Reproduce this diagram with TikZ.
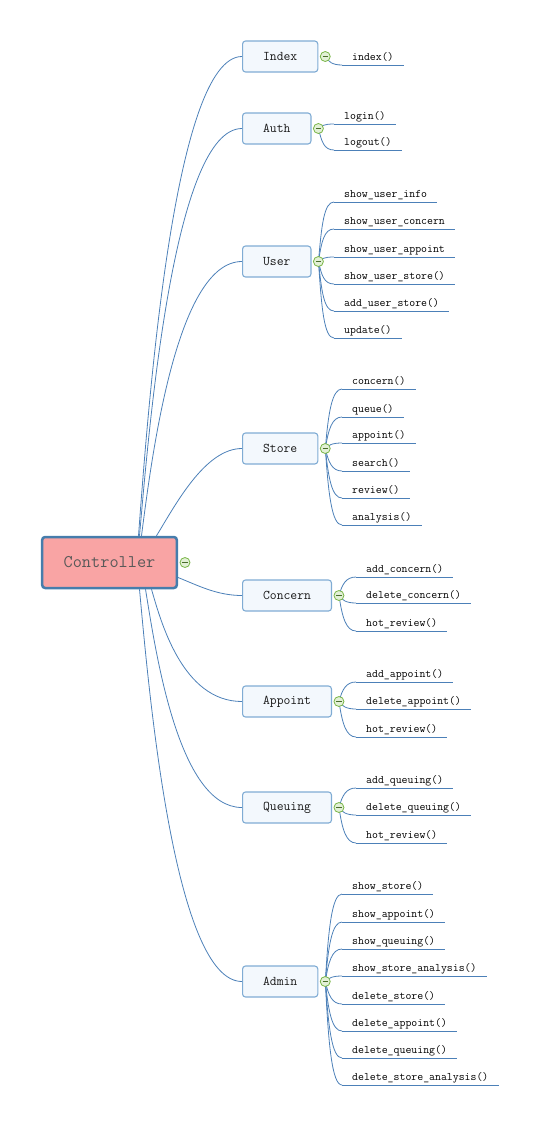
\documentclass[tikz,border=0pt]{standalone}
\usetikzlibrary{positioning}

\definecolor{linkblue}{RGB}{76,128,184}
\definecolor{rootfill}{RGB}{249,164,164}
\definecolor{rootline}{RGB}{70,125,172}
\definecolor{topicfill}{RGB}{243,248,253}
\definecolor{topicline}{RGB}{128,172,212}
\definecolor{togglefill}{RGB}{226,240,214}
\definecolor{toggleline}{RGB}{122,182,72}

\tikzset{
  root/.style={rectangle, rounded corners=3pt, draw=rootline, line width=2.5pt, fill=rootfill,
    minimum height=51pt, inner xsep=21.5pt, font=\ttfamily\fontsize{17.8}{20}\selectfont, text=black!65},
  topic/.style={rectangle, rounded corners=3pt, draw=topicline, line width=1.1pt, fill=topicfill,
    minimum height=31pt, inner xsep=20.5pt, anchor=west, font=\ttfamily\fontsize{13.3}{15}\selectfont, text=black!90},
  link/.style={draw=linkblue, line width=0.8pt},
  method/.style={anchor=south west, inner xsep=10pt, inner ysep=4pt, text depth=0pt,
    font=\ttfamily\fontsize{11.5}{13}\selectfont,
    append after command={(\tikzlastnode.south west) edge[link] (\tikzlastnode.south east)}},
  toggle/.style={circle, draw=toggleline, fill=togglefill, line width=0.8pt, minimum size=10pt, inner sep=0pt,
    path picture={\draw[toggleline!60!black, line width=1.2pt] ([xshift=-2.6pt]path picture bounding box.center) -- ([xshift=2.6pt]path picture bounding box.center);}}
}

\begin{document}
\begin{tikzpicture}[x=1pt, y=-1pt]
    \useasboundingbox (0,0) rectangle (541,1125);

    %% Central topic
    \node[root] (root) at (109.5,562.5) {Controller};

    %% Main topics
    \node[topic] (index)   at (242,56.5)  {Index};
    \node[topic] (auth)    at (242,128.5) {Auth};
    \node[topic] (user)    at (242,261.5) {User};
    \node[topic] (store)   at (242,448.5) {Store};
    \node[topic] (concern) at (242,595.5) {Concern};
    \node[topic] (appoint) at (242,701.5) {Appoint};
    \node[topic] (queuing) at (242,807.5) {Queuing};
    \node[topic] (admin)   at (242,981.5) {Admin};

    %% Root to topics
    \draw[link] ([xshift=29pt]root.north) .. controls +(10,-134) and +(-68,0) .. (index.west);
    \draw[link] ([xshift=30pt]root.north) .. controls +(10,-114) and +(-68,0) .. (auth.west);
    \draw[link] ([xshift=32pt]root.north) .. controls +(10,-77) and +(-66,0) .. (user.west);
    \draw[link] ([xshift=47pt]root.north) .. controls +(19,-31) and +(-37,0) .. (store.west);
    \draw[link] ([yshift=-15pt]root.east) .. controls +(20,8) and +(-25,0) .. (concern.west);
    \draw[link] ([xshift=42pt]root.south) .. controls +(9,31) and +(-60,0) .. (appoint.west);
    \draw[link] ([xshift=36pt]root.south) .. controls +(10,61) and +(-64,0) .. (queuing.west);
    \draw[link] ([xshift=30pt]root.south) .. controls +(10,110) and +(-67,0) .. (admin.west);

    %% Index
    \node[method] (i1) at (342,65) {index()};
    \draw[link] ([xshift=7pt]index.east) .. controls +(3,5) and +(-10,0) .. (i1.south west);

    %% Auth
    \foreach \y/\t [count=\i] in {124/login(), 150/logout()} {
        \node[method] (a\i) at (334,\y) {\t};
        \draw[link] ([xshift=7pt]auth.east) .. controls +(3,{0.6*(\y-128.5)}) and +(-10,0) .. (a\i.south west);
    }

    %% User
    \foreach \y/\t [count=\i] in {202/show\_user\_info, 229/show\_user\_concern, 257/show\_user\_appoint,
                                  284/show\_user\_store(), 311/add\_user\_store(), 338/update()} {
        \node[method] (u\i) at (334,\y) {\t};
        \draw[link] ([xshift=7pt]user.east) .. controls +(3,{0.6*(\y-261.5)}) and +(-10,0) .. (u\i.south west);
    }

    %% Store
    \foreach \y/\t [count=\i] in {389/concern(), 417/queue(), 443/appoint(),
                                  471/search(), 498/review(), 525/analysis()} {
        \node[method] (s\i) at (342,\y) {\t};
        \draw[link] ([xshift=7pt]store.east) .. controls +(3,{0.6*(\y-448.5)}) and +(-10,0) .. (s\i.south west);
    }

    %% Concern
    \foreach \y/\t [count=\i] in {577/add\_concern(), 603/delete\_concern(), 631/hot\_review()} {
        \node[method] (c\i) at (356,\y) {\t};
        \draw[link] ([xshift=7pt]concern.east) .. controls +(3,{0.6*(\y-595.5)}) and +(-10,0) .. (c\i.south west);
    }

    %% Appoint
    \foreach \y/\t [count=\i] in {682/add\_appoint(), 709/delete\_appoint(), 737/hot\_review()} {
        \node[method] (p\i) at (356,\y) {\t};
        \draw[link] ([xshift=7pt]appoint.east) .. controls +(3,{0.6*(\y-701.5)}) and +(-10,0) .. (p\i.south west);
    }

    %% Queuing
    \foreach \y/\t [count=\i] in {788/add\_queuing(), 815/delete\_queuing(), 843/hot\_review()} {
        \node[method] (q\i) at (356,\y) {\t};
        \draw[link] ([xshift=7pt]queuing.east) .. controls +(3,{0.6*(\y-807.5)}) and +(-10,0) .. (q\i.south west);
    }

    %% Admin
    \foreach \y/\t [count=\i] in {894/show\_store(), 922/show\_appoint(), 949/show\_queuing(),
                                  976/show\_store\_analysis(), 1004/delete\_store(), 1031/delete\_appoint(),
                                  1058/delete\_queuing(), 1085/delete\_store\_analysis()} {
        \node[method] (d\i) at (342,\y) {\t};
        \draw[link] ([xshift=7pt]admin.east) .. controls +(3,{0.6*(\y-981.5)}) and +(-10,0) .. (d\i.south west);
    }

    %% Collapse buttons
    \node[toggle, right=1.5pt of root] (troot) {};
    \node[toggle, right=1.5pt of index] (tindex) {};
    \node[toggle, right=1.5pt of auth] (tauth) {};
    \node[toggle, right=1.5pt of user] (tuser) {};
    \node[toggle, right=1.5pt of store] (tstore) {};
    \node[toggle, right=1.5pt of concern] (tconcern) {};
    \node[toggle, right=1.5pt of appoint] (tappoint) {};
    \node[toggle, right=1.5pt of queuing] (tqueuing) {};
    \node[toggle, right=1.5pt of admin] (tadmin) {};

\end{tikzpicture}
\end{document}
